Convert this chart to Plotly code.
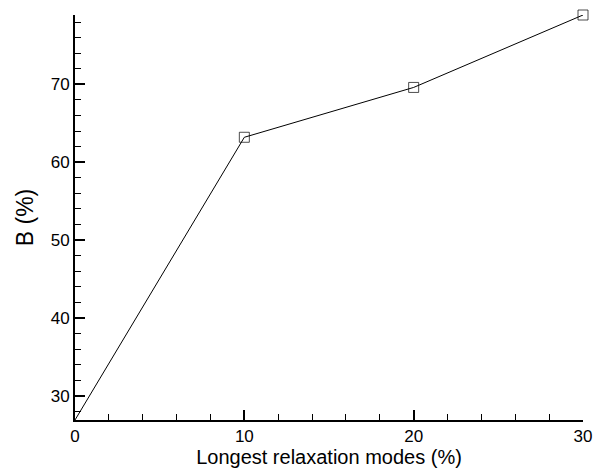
import plotly.graph_objects as go

# longest relaxation modes (%) vs B (%)
modes_pct = [0, 10, 20, 30]
b_pct = [26.9, 63.2, 69.6, 78.9]
marker_sizes = [0, 10, 10, 10]  # first point sits on the axis corner, no marker shown

fig = go.Figure()
fig.add_trace(go.Scatter(
    x=modes_pct, y=b_pct,
    mode='lines+markers',
    line=dict(color='black', width=1),
    marker=dict(symbol='square-open', size=marker_sizes, color='black', line=dict(width=1)),
    cliponaxis=False,
    showlegend=False,
))

axis_font = dict(family='Liberation Sans, Arial, sans-serif', size=17, color='black')

fig.update_xaxes(
    range=[0, 30], dtick=10, tick0=0,
    showline=True, linewidth=2, linecolor='black',
    ticks='inside', ticklen=10, tickwidth=2, tickcolor='black',
    minor=dict(dtick=2, ticks='inside', ticklen=6, tickwidth=1, tickcolor='black', showgrid=False),
    showgrid=False, zeroline=False, automargin=False,
    tickfont=axis_font,
    title=dict(text='Longest relaxation modes (%)', font=dict(family='Liberation Sans, Arial, sans-serif', size=20, color='black'), standoff=0),
)
fig.update_yaxes(
    range=[26.9, 78.9], dtick=10, tick0=0,
    showline=True, linewidth=2, linecolor='black',
    ticks='inside', ticklen=10, tickwidth=2, tickcolor='black',
    minor=dict(dtick=2, ticks='inside', ticklen=6, tickwidth=1, tickcolor='black', showgrid=False),
    showgrid=False, zeroline=False, automargin=False,
    tickfont=axis_font,
    title=dict(text='B (%)', font=dict(family='Liberation Sans, Arial, sans-serif', size=23, color='black'), standoff=11),
)
fig.update_layout(
    width=596, height=471,
    margin=dict(l=75, r=13, t=15, b=51),
    plot_bgcolor='white', paper_bgcolor='white',
)
# drop the page's default body margin so the figure sits at the window corner
fig.write_html("out.html", config={'displayModeBar': False},
               post_script="document.body.style.margin='0';")
